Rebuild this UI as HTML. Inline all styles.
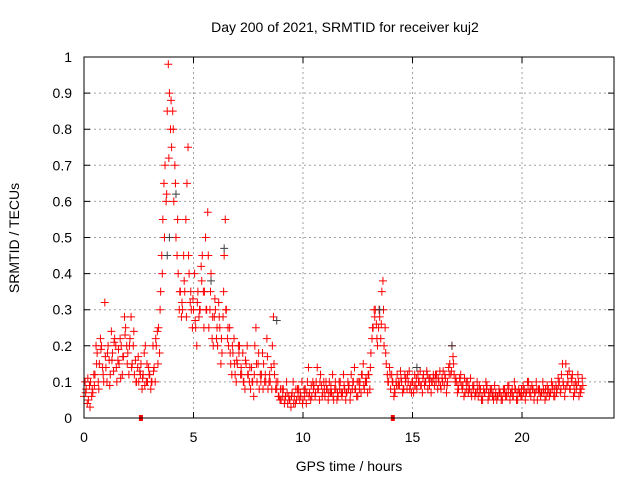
<!DOCTYPE html>
<html><head><meta charset="utf-8"><style>
body{margin:0;background:#fff}
svg{display:block;font-family:"Liberation Sans",sans-serif}
</style></head><body>
<svg id="chart" width="640" height="480" xmlns="http://www.w3.org/2000/svg">
<text x="345" y="32" font-size="14" text-anchor="middle">Day 200 of 2021, SRMTID for receiver kuj2</text>
<text x="349" y="471" font-size="14" text-anchor="middle">GPS time / hours</text>
<text transform="translate(19,238) rotate(-90)" font-size="14" text-anchor="middle">SRMTID / TECUs</text>
<g id="grid"></g>
<g id="ticks"></g>
<g id="marks"></g>
<rect x="84" y="57" width="530" height="361" fill="none" stroke="#000" stroke-width="1"/>
</svg>
<script>
const xTicks=[0,5,10,15,20];
const yTicks=[0,0.1,0.2,0.3,0.4,0.5,0.6,0.7,0.8,0.9,1];
const yTickLabels=["0","0.1","0.2","0.3","0.4","0.5","0.6","0.7","0.8","0.9","1"];
const seriesA=[0.06,0.08,0.05,0.1,0.07,0.12,0.18,0.15,0.2,0.1,
0.14,0.2,0.12,0.18,0.22,0.1,0.15,0.2,0.17,0.25,0.18,0.22,0.15,0.12,0.1,0.1,0.15,0.12,0.2,0.1,
0.12,0.1,0.14,0.2,0.25,0.35,0.55,0.7,0.85,0.9,0.75,0.6,0.5,0.4,0.35,0.3,0.35,0.65,0.4,0.3,
0.3,0.25,0.35,0.3,0.45,0.35,0.3,0.25,0.4,0.2,0.3,0.2,0.25,0.18,0.45,0.3,0.2,0.15,0.18,0.12,
0.15,0.2,0.12,0.1,0.15,0.12,0.08,0.1,0.2,0.1,0.08,0.12,0.15,0.1,0.08,0.1,0.2,0.12,0.08,0.06,
0.05,0.08,0.06,0.04,0.05,0.07,0.06,0.05,0.08,0.06,0.05,0.08,0.1,0.07,0.06,0.09,0.1,0.08,0.12,0.07,
0.06,0.08,0.1,0.07,0.05,0.08,0.06,0.1,0.07,0.08,0.07,0.09,0.12,0.1,0.08,0.06,0.1,0.12,0.08,0.1,
0.12,0.18,0.25,0.3,0.2,0.28,0.35,0.2,0.15,0.1,0.08,0.1,0.07,0.12,0.09,0.1,0.08,0.11,0.1,0.09,
0.1,0.12,0.08,0.1,0.09,0.12,0.1,0.08,0.11,0.1,0.09,0.12,0.1,0.08,0.13,0.11,0.1,0.15,0.2,0.12,
0.1,0.08,0.12,0.09,0.07,0.1,0.08,0.06,0.09,0.07,0.06,0.08,0.05,0.07,0.09,0.06,0.08,0.05,0.07,0.06,
0.07,0.05,0.08,0.06,0.09,0.07,0.06,0.08,0.05,0.07,0.06,0.08,0.07,0.1,0.06,0.08,0.07,0.05,0.08,0.07,
0.07,0.06,0.08,0.07,0.09,0.06,0.08,0.1,0.12,0.09,0.15,0.1,0.08,0.12,0.07,0.09,0.06,0.08];
const seriesB=[0.1,0.04,0.09,0.06,0.12,0.2,0.1,0.22,0.14,0.32,
0.1,0.16,0.24,0.13,0.2,0.16,0.22,0.12,0.28,0.2,0.12,0.28,0.2,0.16,0.14,0.13,0.08,0.18,0.1,0.14,
0.08,0.2,0.1,0.24,0.18,0.45,0.65,0.6,0.98,0.8,0.85,0.7,0.45,0.3,0.28,0.45,0.55,0.75,0.32,0.25,
0.4,0.2,0.28,0.42,0.35,0.5,0.57,0.3,0.22,0.28,0.22,0.32,0.15,0.28,0.55,0.22,0.25,0.12,0.22,0.1,
0.2,0.12,0.18,0.08,0.2,0.1,0.14,0.06,0.25,0.15,0.12,0.18,0.1,0.22,0.1,0.14,0.28,0.08,0.1,0.05,
0.08,0.04,0.1,0.06,0.03,0.1,0.04,0.08,0.05,0.1,0.08,0.04,0.14,0.05,0.1,0.06,0.14,0.05,0.09,0.1,
0.1,0.05,0.07,0.12,0.08,0.05,0.1,0.07,0.12,0.05,0.1,0.05,0.08,0.14,0.06,0.1,0.07,0.15,0.1,0.07,
0.08,0.22,0.3,0.26,0.25,0.22,0.38,0.25,0.12,0.14,0.12,0.06,0.1,0.09,0.13,0.07,0.12,0.08,0.13,0.07,
0.07,0.09,0.12,0.13,0.07,0.09,0.13,0.11,0.07,0.12,0.12,0.08,0.13,0.11,0.09,0.07,0.14,0.12,0.17,0.1,
0.07,0.11,0.09,0.06,0.1,0.07,0.11,0.09,0.06,0.1,0.09,0.05,0.08,0.1,0.05,0.08,0.06,0.09,0.05,0.08,
0.05,0.08,0.06,0.09,0.05,0.08,0.1,0.05,0.08,0.06,0.09,0.05,0.1,0.07,0.09,0.05,0.1,0.08,0.06,0.1,
0.05,0.09,0.06,0.1,0.06,0.09,0.11,0.07,0.15,0.06,0.09,0.13,0.11,0.06,0.1,0.12,0.08,0.11];
const seriesC=[0.07,0.11,0.03,0.08,0.09,0.15,0.08,0.19,0.12,0.17,
0.18,0.09,0.16,0.21,0.14,0.19,0.11,0.17,0.23,0.15,0.2,0.14,0.24,0.1,0.17,0.12,0.11,0.09,0.15,0.12,
0.1,0.13,0.22,0.15,0.3,0.4,0.5,0.62,0.72,0.88,0.8,0.65,0.55,0.35,0.32,0.38,0.28,0.45,0.35,0.33,
0.27,0.32,0.3,0.38,0.25,0.3,0.45,0.35,0.28,0.33,0.25,0.28,0.22,0.35,0.3,0.25,0.18,0.2,0.15,0.16,
0.18,0.14,0.1,0.16,0.12,0.14,0.1,0.12,0.15,0.18,0.1,0.08,0.12,0.17,0.12,0.08,0.15,0.1,0.06,0.08,
0.06,0.05,0.07,0.05,0.06,0.04,0.08,0.06,0.07,0.04,0.06,0.07,0.06,0.09,0.08,0.07,0.08,0.1,0.06,0.08,
0.08,0.07,0.09,0.06,0.1,0.07,0.08,0.06,0.09,0.07,0.08,0.07,0.1,0.08,0.1,0.08,0.12,0.09,0.11,0.12,
0.14,0.25,0.28,0.22,0.3,0.26,0.3,0.18,0.1,0.12,0.1,0.08,0.09,0.1,0.11,0.08,0.1,0.12,0.08,0.1,
0.09,0.11,0.1,0.09,0.11,0.1,0.12,0.09,0.1,0.11,0.1,0.11,0.09,0.1,0.12,0.09,0.12,0.13,0.15,0.11,
0.09,0.1,0.08,0.11,0.08,0.09,0.07,0.08,0.07,0.08,0.07,0.06,0.07,0.08,0.07,0.07,0.07,0.06,0.06,0.07,
0.06,0.07,0.07,0.07,0.07,0.06,0.08,0.07,0.07,0.08,0.07,0.07,0.08,0.08,0.08,0.07,0.08,0.07,0.07,0.08,
0.08,0.07,0.07,0.08,0.08,0.07,0.09,0.08,0.1,0.08,0.12,0.08,0.1,0.09,0.08,0.1,0.07,0.09];
const timeStart=0, timeStep=0.1, offsetB=0.05, offsetC=0.075;
const grayTimes=[3.8,3.9,4.2,5.8,6.4,8.8,13.5,15.2,16.8];
const grayValues=[0.45,0.5,0.62,0.38,0.47,0.27,0.3,0.14,0.2];
const gapTimes=[2.6,14.1];

const X0=84,X1=614,Y0=418,Y1=57,XMAX=24.2;
const sx=t=>X0+t/XMAX*(X1-X0);
const sy=v=>Y0-v*(Y0-Y1);
const NS="http://www.w3.org/2000/svg";
function mk(tag,attrs,parent){const e=document.createElementNS(NS,tag);for(const k in attrs)e.setAttribute(k,attrs[k]);parent.appendChild(e);return e;}
const grid=document.getElementById('grid'),ticks=document.getElementById('ticks'),marks=document.getElementById('marks');
xTicks.forEach(t=>{const x=sx(t);
 if(t>0){const g=mk('line',{x1:x,x2:x,y1:Y1,y2:Y0,stroke:'#a0a0a0','stroke-dasharray':'2,3'},grid);}
 const tk=mk('path',{d:`M${x},${Y0}v-6M${x},${Y1}v6`,stroke:'#000'},ticks);
 const lb=mk('text',{x:x,y:442,'font-size':14,'text-anchor':'middle'},ticks);lb.textContent=String(t);});
yTicks.forEach((v,i)=>{const y=sy(v);
 if(v>0&&v<1){const g=mk('line',{x1:X0,x2:X1,y1:y,y2:y,stroke:'#a0a0a0','stroke-dasharray':'2,3'},grid);}
 const tk=mk('path',{d:`M${X0},${y}h6M${X1},${y}h-6`,stroke:'#000'},ticks);
 const lb=mk('text',{x:72,y:y+5,'font-size':14,'text-anchor':'end'},ticks);lb.textContent=yTickLabels[i];});
function cross(t,v,color){const x=sx(t),y=sy(v);
 const p=mk('path',{d:`M${x-4},${y}h8M${x},${y-4}v8`,stroke:color,'stroke-width':1},marks);
 
 }
seriesA.forEach((v,i)=>cross(timeStart+i*timeStep,v,'#ff0000'));
seriesB.forEach((v,i)=>cross(timeStart+i*timeStep+offsetB,v,'#ff0000'));
seriesC.forEach((v,i)=>cross(timeStart+i*timeStep+offsetC,v,'#ff0000'));
grayTimes.forEach((t,i)=>cross(t,grayValues[i],'#404040'));
gapTimes.forEach(t=>{const r=mk('rect',{x:sx(t)-2,y:Y0-3,width:4,height:6,fill:'#ff0000'},marks);
 
 });
</script>
</body></html>
